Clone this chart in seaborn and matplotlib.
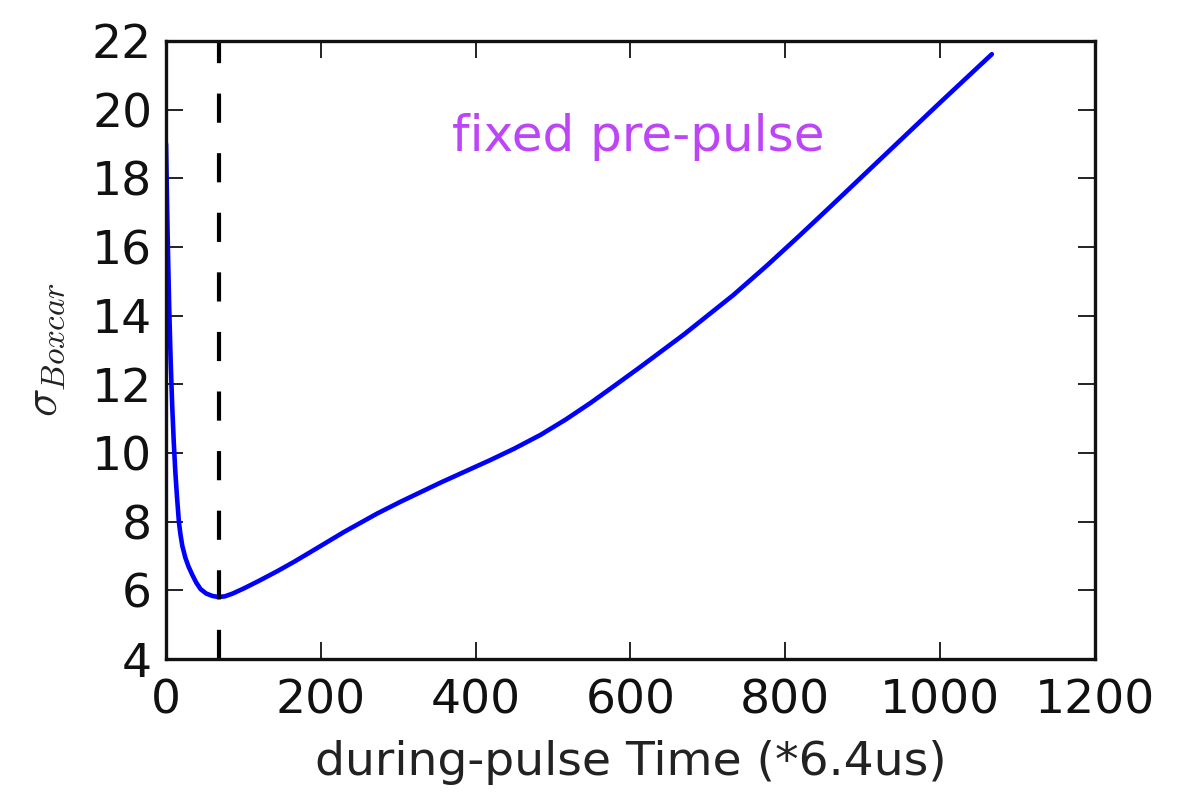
import matplotlib
matplotlib.use("Agg")
import matplotlib.pyplot as plt
import seaborn as sns
import pandas as pd

# Boxcar width sigma versus during-pulse time (units of 6.4 us)
time_steps = [0, 2, 4, 6, 8, 10, 12, 14, 16.6, 18.5, 21, 25, 29, 33.8, 39,
              44.6, 52, 60, 68, 76, 86, 100.5, 120, 143.6, 165, 186.7, 229.7,
              272.8, 302.7, 354.7, 419.3, 450, 483.9, 516, 548.5, 580, 613,
              669, 733, 776, 819, 862, 905, 1000, 1067]
sigma_boxcar = [19.0, 16.4, 14.3, 12.65, 11.35, 10.3, 9.45, 8.77, 8.0, 7.65,
                7.3, 6.95, 6.7, 6.46, 6.23, 6.04, 5.91, 5.84, 5.81, 5.83,
                5.91, 6.06, 6.28, 6.56, 6.83, 7.12, 7.7, 8.24, 8.58, 9.14,
                9.8, 10.13, 10.53, 10.97, 11.46, 11.97, 12.51, 13.45, 14.6,
                15.45, 16.34, 17.25, 18.17, 20.2, 21.61]
optimum_time = 68
x_ticks = [0, 200, 400, 600, 800, 1000, 1200]
y_ticks = [4, 6, 8, 10, 12, 14, 16, 18, 20, 22]
annotation = "fixed pre-pulse"

df = pd.DataFrame({"time": time_steps, "sigma": sigma_boxcar})

sns.set_style("ticks")
plt.rcParams["font.family"] = ["DejaVu Sans"]
plt.rcParams["mathtext.fontset"] = "cm"

fig = plt.figure(figsize=(11.81, 8.0), dpi=100)
ax = fig.add_axes([0.1406, 0.176, 0.7864, 0.773])

sns.lineplot(data=df, x="time", y="sigma", ax=ax, color="#0000ff",
             linewidth=3.3, sort=False, estimator=None)
ax.axvline(optimum_time, color="black", linewidth=3.0,
           linestyle=(0, (7, 7.3)))

ax.text(369, 18.8, annotation, color="#bd45f5", fontsize=36,
        ha="left", va="baseline")

ax.set_xlim(0, 1200)
ax.set_ylim(4, 22)
ax.set_xticks(x_ticks)
ax.set_yticks(y_ticks)
ax.set_xticklabels([str(t) for t in x_ticks])
ax.set_yticklabels([str(t) for t in y_ticks])
ax.tick_params(direction="in", length=12, width=1.3, labelsize=34,
               top=True, right=True, pad=10, colors="#111111")
ax.tick_params(axis="x", pad=14)
for spine in ax.spines.values():
    spine.set_linewidth(2.4)
    spine.set_color("#111111")
    spine.set_visible(True)

ax.set_xlabel("during-pulse Time (*6.4us)", fontsize=34, labelpad=12,
              color="#222222")
ax.set_ylabel(r"$\sigma_{Boxcar}$", fontsize=34, labelpad=18,
              color="#222222")

fig.savefig("out.png", dpi=100, facecolor="white")
